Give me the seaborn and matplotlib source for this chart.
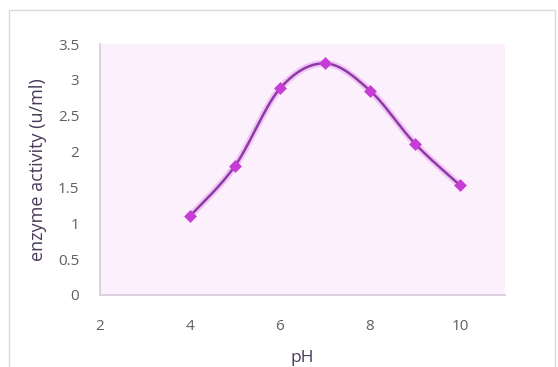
import numpy as np
import pandas as pd
import matplotlib
matplotlib.use("Agg")
import matplotlib.pyplot as plt
from matplotlib.patches import Rectangle
import seaborn as sns

ph = [4, 5, 6, 7, 8, 9, 10]
activity = [1.1, 1.8, 2.88, 3.23, 2.85, 2.11, 1.53]
x_ticks = [2, 4, 6, 8, 10]
y_ticks = [0, 0.5, 1, 1.5, 2, 2.5, 3, 3.5]
y_tick_labels = ["0", "0.5", "1", "1.5", "2", "2.5", "3", "3.5"]


def smooth_curve(xs, ys, n=30):
    # Excel-like smoothed line: cubic Bezier segments with Catmull-Rom control points
    xs = np.asarray(xs, float)
    ys = np.asarray(ys, float)
    px = np.concatenate([[xs[0]], xs, [xs[-1]]])
    py = np.concatenate([[ys[0]], ys, [ys[-1]]])
    out_x, out_y = [], []
    t = np.linspace(0, 1, n)
    for i in range(1, len(px) - 2):
        p0 = np.array([px[i], py[i]])
        p3 = np.array([px[i + 1], py[i + 1]])
        c1 = p0 + (np.array([px[i + 1], py[i + 1]]) - np.array([px[i - 1], py[i - 1]])) / 6
        c2 = p3 - (np.array([px[i + 2], py[i + 2]]) - np.array([px[i], py[i]])) / 6
        for tt in t:
            b = ((1 - tt) ** 3) * p0 + 3 * ((1 - tt) ** 2) * tt * c1 + 3 * (1 - tt) * tt ** 2 * c2 + tt ** 3 * p3
            out_x.append(b[0])
            out_y.append(b[1])
    return np.array(out_x), np.array(out_y)


sns.set_style("white")
plt.rcParams["font.family"] = ["Open Sans", "DejaVu Sans"]

fig = plt.figure(figsize=(5.58, 3.67), dpi=100)
fig.patch.set_facecolor("white")
fig.patches.append(Rectangle((9 / 558, -0.01), 546 / 558, 1 - 10 / 367 + 0.01,
                             transform=fig.transFigure, fill=False,
                             edgecolor="#d9d9d9", linewidth=1.0))

ax = fig.add_axes([100 / 558, 1 - 295 / 367, 405 / 558, 251 / 367])
ax.set_facecolor("#fdf0fd")

sx, sy = smooth_curve(ph, activity)
curve = pd.DataFrame({"pH": sx, "act": sy})
pts = pd.DataFrame({"pH": ph, "act": activity})

sns.lineplot(data=curve, x="pH", y="act", ax=ax, color="#d050e0", linewidth=5,
             alpha=0.25, sort=False, estimator=None)
sns.lineplot(data=curve, x="pH", y="act", ax=ax, color="#8e3aa6", linewidth=1.8,
             sort=False, estimator=None)
sns.scatterplot(data=pts, x="pH", y="act", ax=ax, marker="D", s=36,
                color="#c63cd6", edgecolor="#c63cd6", linewidth=0.5, zorder=5)

ax.set_xlim(2, 11)
ax.set_ylim(0, 3.5)
ax.set_xticks(x_ticks)
ax.set_yticks(y_ticks)
ax.set_yticklabels(y_tick_labels)
ax.tick_params(axis="both", length=0, labelsize=11, colors="#5f5f5f")
ax.tick_params(axis="x", pad=17)
ax.tick_params(axis="y", pad=15)

for s in ["top", "right"]:
    ax.spines[s].set_visible(False)
for s in ["left", "bottom"]:
    ax.spines[s].set_color("#d8c8dc")
    ax.spines[s].set_linewidth(1.2)

ax.set_xlabel("pH", fontsize=12.5, color="#4a3a5a", labelpad=12)
ax.set_ylabel("enzyme activity (u/ml)", fontsize=13, color="#4a3a5a", labelpad=8)

fig.savefig("out.png", dpi=100)
